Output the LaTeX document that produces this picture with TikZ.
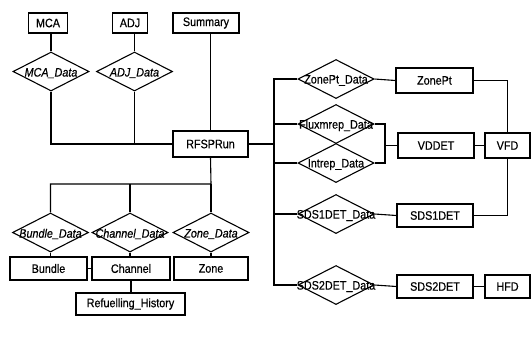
\documentclass[tikz,border=0pt]{standalone}
\usepackage{fontspec}
\setmainfont{Liberation Sans}[FakeStretch=0.88,FakeBold=0.5]
\usetikzlibrary{shapes.geometric}
\begin{document}
\begin{tikzpicture}[x=1bp,y=-1bp,
  every node/.style={font=\fontsize{12.3}{14}\selectfont},
  ent/.style={draw,rectangle,line width=1.1bp,inner sep=0pt},
  rel/.style={draw,diamond,line width=1.1bp,inner sep=0pt,minimum width=76bp,minimum height=39bp},
  lbl/.style={anchor=center,inner sep=0pt,yshift=-1.5bp},
  link/.style={line width=1.1bp}]
\useasboundingbox (0,0) rectangle (532,349);
% entities
\node[ent,minimum width=39bp,minimum height=20bp] (MCA) at (48,23) {MCA};
\node[ent,minimum width=35bp,minimum height=20bp] (ADJ) at (130,23) {ADJ};
\node[ent,minimum width=66bp,minimum height=20bp] (Sum) at (206,23) {Summary};
\node[ent,minimum width=75bp,minimum height=26bp] (RF) at (210.5,144) {RFSPRun};
\node[ent,minimum width=77bp,minimum height=25bp] (ZP) at (434.5,80.5) {ZonePt};
\node[ent,minimum width=76bp,minimum height=25bp] (VD) at (436,145.5) {VDDET};
\node[ent,minimum width=45bp,minimum height=25bp] (VFD) at (507.5,145.5) {VFD};
\node[ent,minimum width=76bp,minimum height=23bp] (S1) at (435,215.5) {SDS1DET};
\node[ent,minimum width=76bp,minimum height=23bp] (S2) at (435,286.5) {SDS2DET};
\node[ent,minimum width=45bp,minimum height=23bp] (HFD) at (507.5,286.5) {HFD};
\node[ent,minimum width=77bp,minimum height=23bp] (Bu) at (48.5,268.5) {Bundle};
\node[ent,minimum width=78bp,minimum height=23bp] (Ch) at (131,268.5) {Channel};
\node[ent,minimum width=74bp,minimum height=23bp] (Zo) at (211,268.5) {Zone};
\node[ent,minimum width=109bp,minimum height=22bp] (RH) at (130.5,304) {Refuelling\_History};
% relationships
\node[rel,label={[lbl]center:\itshape MCA\_Data}] (MCAd) at (51,71.5) {};
\node[rel,label={[lbl]center:\itshape ADJ\_Data}] (ADJd) at (134.5,71.5) {};
\node[rel,label={[lbl]center:ZonePt\_Data}] (ZPd) at (336,79) {};
\node[rel,label={[lbl]center:Fluxmrep\_Data}] (FLd) at (336,124) {};
\node[rel,label={[lbl]center:Intrep\_Data}] (INd) at (336,163) {};
\node[rel,label={[lbl]center:SDS1DET\_Data}] (S1d) at (336,214) {};
\node[rel,label={[lbl]center:SDS2DET\_Data}] (S2d) at (336,285) {};
\node[rel,label={[lbl]center:\itshape Bundle\_Data}] (Bud) at (50.5,232.5) {};
\node[rel,label={[lbl]center:\itshape Channel\_Data}] (Chd) at (130,232.5) {};
\node[rel,label={[lbl]center:\itshape Zone\_Data}] (Zod) at (211,232.5) {};
% junction coordinates
\coordinate (bus) at (274,144);
\coordinate (fj) at (385,145.5);
\coordinate (bj) at (211,184);
% connectors top-left
\draw[link] (MCAd.north) -- (MCAd.north |- MCA.south);
\draw[link] (ADJd.north) -- (ADJd.north |- ADJ.south);
\draw[link] (MCAd.south) |- (RF.west);
\draw[link] (ADJd.south) -- (ADJd.south |- RF.west);
\draw[link] (RF.north) -- (RF.north |- Sum.south);
% right bus
\draw[link] (RF.east) -- (bus);
\draw[link] (ZPd.west) -- (ZPd.west -| bus) -- (S2d.west -| bus) -- (S2d.west);
\draw[link] (FLd.west) -- (FLd.west -| bus);
\draw[link] (INd.west) -- (INd.west -| bus);
\draw[link] (S1d.west) -- (S1d.west -| bus);
\draw[link] (ZPd.east) -- (ZP.west);
\draw[link] (ZP.east) -| (VFD.north);
\draw[link] (FLd.east) -| (fj) |- (INd.east);
\draw[link] (fj) -- (VD.west);
\draw[link] (VD.east) -- (VFD.west);
\draw[link] (VFD.south) |- (S1.east);
\draw[link] (S1d.east) -- (S1.west);
\draw[link] (S2d.east) -- (S2.west);
\draw[link] (S2.east) -- (HFD.west);
% bottom
\draw[link] (RF.south) -- (bj) -| (Bud.north);
\draw[link] (Chd.north) -- (Chd.north |- bj);
\draw[link] (Zod.north) -- (Zod.north |- bj);
\draw[link] (Bud.south) -- (Bud.south |- Bu.north);
\draw[link] (Chd.south) -- (Chd.south |- Ch.north);
\draw[link] (Zod.south) -- (Zod.south |- Zo.north);
\draw[link] (Bu.east) -- (Ch.west);
\draw[link] (Ch.south) -- (Ch.south |- RH.north);
\end{tikzpicture}
\end{document}
